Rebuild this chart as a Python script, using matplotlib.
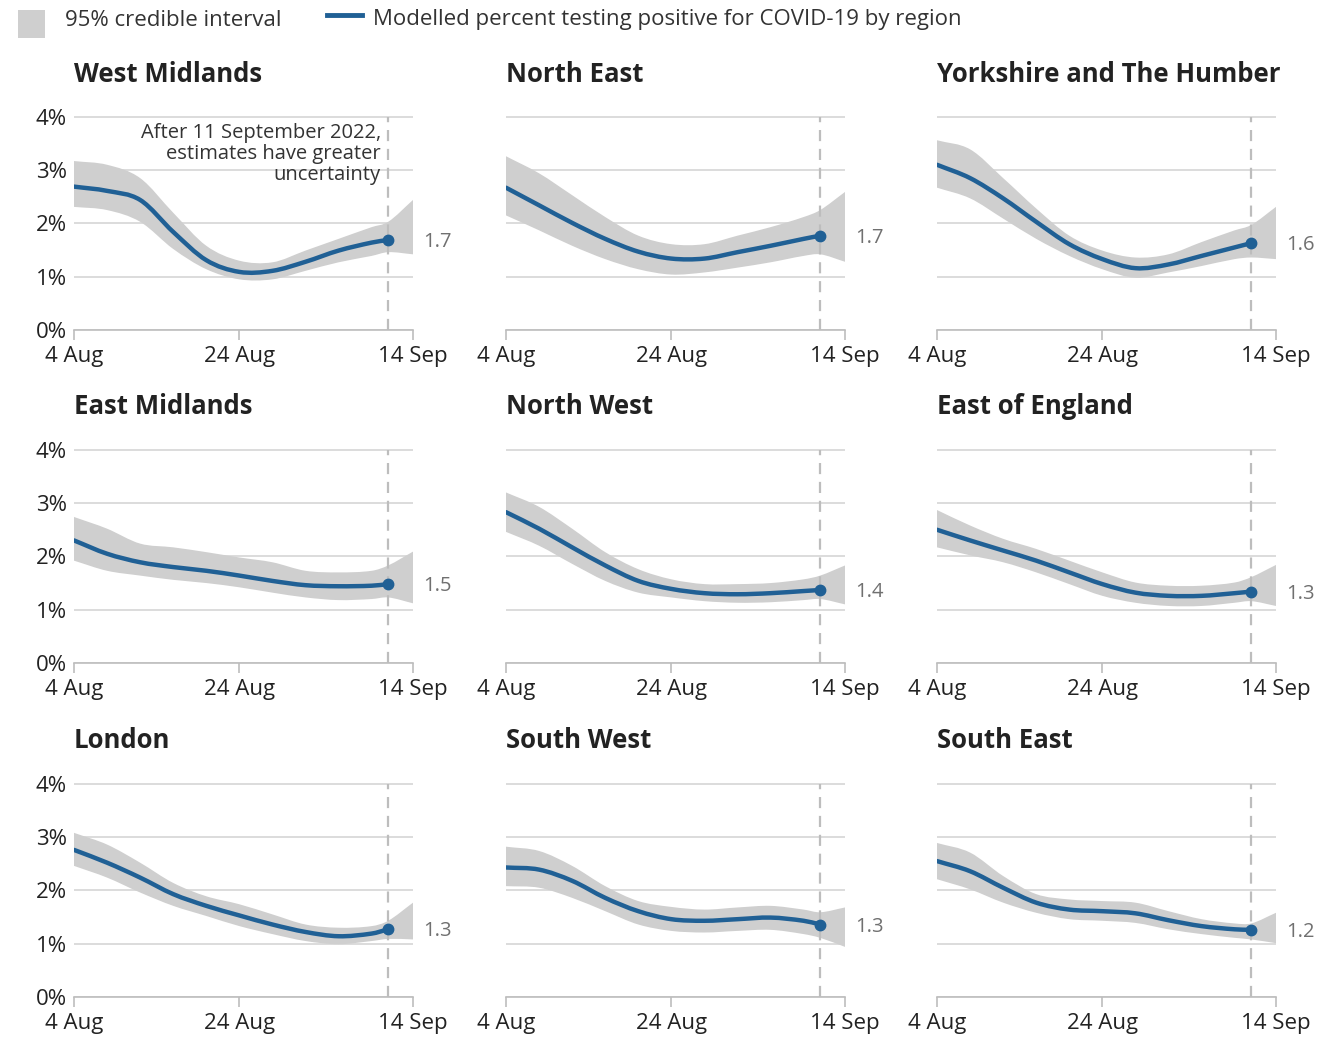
import matplotlib
matplotlib.use('Agg')
import matplotlib.pyplot as plt
import numpy as np
import pandas as pd
import matplotlib.dates as mdates
from matplotlib.path import Path
from matplotlib.patches import PathPatch, Rectangle
from matplotlib.lines import Line2D

plt.rcParams['font.family'] = ['Open Sans', 'DejaVu Sans']

# ---------------- data ----------------
regions = ["West Midlands", "North East", "Yorkshire and The Humber",
           "East Midlands", "North West", "East of England",
           "London", "South West", "South East"]

start_date = "2022-08-04"
line_days = [0, 4, 8, 12, 16, 20, 24, 28, 32, 36, 38]          # days after 4 Aug (last = 11 Sep)
band_days = [0, 4, 8, 12, 16, 20, 24, 28, 32, 36, 38, 41]      # band runs to 14 Sep

estimate = {
    "West Midlands":            [2.69, 2.61, 2.44, 1.84, 1.31, 1.09, 1.11, 1.28, 1.49, 1.64, 1.69],
    "North East":               [2.67, 2.34, 2.01, 1.71, 1.47, 1.34, 1.34, 1.46, 1.58, 1.71, 1.77],
    "Yorkshire and The Humber": [3.10, 2.85, 2.47, 2.03, 1.61, 1.33, 1.16, 1.23, 1.39, 1.55, 1.63],
    "East Midlands":            [2.30, 2.05, 1.89, 1.80, 1.73, 1.64, 1.54, 1.46, 1.44, 1.45, 1.48],
    "North West":               [2.83, 2.52, 2.17, 1.83, 1.54, 1.39, 1.31, 1.29, 1.31, 1.35, 1.37],
    "East of England":          [2.50, 2.30, 2.11, 1.92, 1.70, 1.48, 1.32, 1.26, 1.26, 1.31, 1.34],
    "London":                   [2.76, 2.52, 2.24, 1.93, 1.71, 1.53, 1.36, 1.22, 1.14, 1.19, 1.27],
    "South West":               [2.43, 2.39, 2.18, 1.86, 1.61, 1.46, 1.43, 1.46, 1.49, 1.43, 1.36],
    "South East":               [2.55, 2.36, 2.05, 1.77, 1.64, 1.61, 1.57, 1.44, 1.33, 1.27, 1.26],
}
upper = {
    "West Midlands":            [3.17, 3.10, 2.85, 2.20, 1.58, 1.30, 1.27, 1.49, 1.71, 1.93, 2.03, 2.44],
    "North East":               [3.26, 2.94, 2.53, 2.12, 1.77, 1.61, 1.61, 1.77, 1.93, 2.12, 2.25, 2.59],
    "Yorkshire and The Humber": [3.56, 3.39, 2.85, 2.28, 1.77, 1.49, 1.36, 1.42, 1.65, 1.87, 1.97, 2.31],
    "East Midlands":            [2.74, 2.52, 2.24, 2.17, 2.08, 1.98, 1.89, 1.73, 1.70, 1.73, 1.83, 2.09],
    "North West":               [3.20, 2.93, 2.52, 2.08, 1.76, 1.57, 1.48, 1.48, 1.50, 1.57, 1.64, 1.83],
    "East of England":          [2.87, 2.58, 2.33, 2.14, 1.92, 1.70, 1.51, 1.45, 1.45, 1.51, 1.61, 1.84],
    "London":                   [3.08, 2.86, 2.52, 2.14, 1.89, 1.74, 1.55, 1.36, 1.30, 1.33, 1.43, 1.77],
    "South West":               [2.82, 2.74, 2.46, 2.08, 1.80, 1.69, 1.64, 1.68, 1.71, 1.64, 1.59, 1.68],
    "South East":               [2.89, 2.71, 2.27, 1.93, 1.83, 1.80, 1.77, 1.61, 1.46, 1.38, 1.38, 1.58],
}
lower = {
    "West Midlands":            [2.31, 2.25, 2.03, 1.52, 1.14, 0.95, 0.95, 1.11, 1.27, 1.39, 1.46, 1.42],
    "North East":               [2.15, 1.87, 1.58, 1.33, 1.14, 1.04, 1.08, 1.17, 1.27, 1.39, 1.42, 1.28],
    "Yorkshire and The Humber": [2.67, 2.47, 2.09, 1.71, 1.39, 1.14, 0.98, 1.08, 1.20, 1.33, 1.36, 1.33],
    "East Midlands":            [1.92, 1.73, 1.64, 1.56, 1.50, 1.42, 1.32, 1.23, 1.18, 1.20, 1.23, 1.12],
    "North West":               [2.46, 2.20, 1.86, 1.54, 1.32, 1.23, 1.16, 1.13, 1.14, 1.18, 1.20, 1.10],
    "East of England":          [2.17, 2.02, 1.89, 1.70, 1.48, 1.26, 1.13, 1.07, 1.07, 1.13, 1.16, 1.07],
    "London":                   [2.46, 2.24, 1.96, 1.71, 1.52, 1.33, 1.18, 1.05, 0.99, 1.05, 1.09, 1.08],
    "South West":               [2.08, 2.05, 1.86, 1.61, 1.36, 1.24, 1.21, 1.24, 1.26, 1.18, 1.11, 0.94],
    "South East":               [2.21, 2.02, 1.77, 1.58, 1.46, 1.43, 1.39, 1.27, 1.18, 1.11, 1.08, 1.01],
}
latest_labels = ["1.7", "1.7", "1.6", "1.5", "1.4", "1.3", "1.3", "1.3", "1.2"]

y_ticks = [0, 1, 2, 3, 4]
y_tick_labels = ["0%", "1%", "2%", "3%", "4%"]
x_tick_days = [0, 20, 41]
x_tick_labels = ["4 Aug", "24 Aug", "14 Sep"]
uncertainty_day = 38
note_text = "After 11 September 2022,\nestimates have greater\nuncertainty"
legend_labels = ["95% credible interval",
                 "Modelled percent testing positive for COVID-19 by region"]

# ---------------- style ----------------
BLUE = "#206095"
BAND = "#cfcfcf"
GRID = "#d6d6d6"
TEXT = "#222222"
GREY_TXT = "#707070"
FS = 16

W, H = 1317, 1038
fig = plt.figure(figsize=(W / 100, H / 100), dpi=100)

col_left = [74, 506, 937]
row_zero = [330, 663, 997]
ax_w = 339
px_per_pct = 53.3
ymax = 4.08

t0 = pd.Timestamp(start_date)
line_dates = t0 + pd.to_timedelta(line_days, unit="D")
band_dates = t0 + pd.to_timedelta(band_days, unit="D")
tick_dates = t0 + pd.to_timedelta(x_tick_days, unit="D")
unc_date = t0 + pd.Timedelta(days=uncertainty_day)


def smooth_segments(x, y):
    """Cubic Hermite (Bezier) rendering through the given points."""
    x = np.asarray(x, float)
    y = np.asarray(y, float)
    n = len(x)
    m = np.empty(n)
    m[0] = (y[1] - y[0]) / (x[1] - x[0])
    m[-1] = (y[-1] - y[-2]) / (x[-1] - x[-2])
    for k in range(1, n - 1):
        m[k] = (y[k + 1] - y[k - 1]) / (x[k + 1] - x[k - 1])
    verts = []
    for k in range(n - 1):
        h = x[k + 1] - x[k]
        verts += [(x[k] + h / 3, y[k] + m[k] * h / 3),
                  (x[k + 1] - h / 3, y[k + 1] - m[k + 1] * h / 3),
                  (x[k + 1], y[k + 1])]
    return verts


for i, reg in enumerate(regions):
    r, c = divmod(i, 3)
    left = col_left[c] / W
    bottom = 1 - row_zero[r] / H
    height = px_per_pct * ymax / H
    ax = fig.add_axes([left, bottom, ax_w / W, height])

    bx = mdates.date2num(band_dates)
    lx = mdates.date2num(line_dates)

    # credible interval band
    up = smooth_segments(bx, upper[reg])
    lo = smooth_segments(bx[::-1], lower[reg][::-1])
    verts = [(bx[0], upper[reg][0])] + up + [(bx[-1], lower[reg][-1])] + lo + [(bx[0], upper[reg][0])]
    codes = ([Path.MOVETO] + [Path.CURVE4] * len(up) + [Path.LINETO]
             + [Path.CURVE4] * len(lo) + [Path.CLOSEPOLY])
    ax.add_patch(PathPatch(Path(verts, codes), facecolor=BAND, edgecolor="none", zorder=1))

    ax.axvline(unc_date, ymin=0, ymax=4 / ymax, color="#bdbdbd", lw=1.6,
               ls=(0, (5, 3.5)), zorder=2)

    # modelled estimate
    lv = [(lx[0], estimate[reg][0])] + smooth_segments(lx, estimate[reg])
    lc = [Path.MOVETO] + [Path.CURVE4] * (len(lv) - 1)
    ax.add_patch(PathPatch(Path(lv, lc), facecolor="none", edgecolor=BLUE, lw=3.2,
                           capstyle="round", joinstyle="round", zorder=3))
    ax.plot([line_dates[-1]], [estimate[reg][-1]], "o", color=BLUE, ms=7.5, zorder=4)
    ax.annotate(latest_labels[i], xy=(band_dates[-1], estimate[reg][-1]),
                xytext=(7, -1.5), textcoords="offset points", va="center", ha="left",
                fontsize=14.5, color=GREY_TXT, annotation_clip=False)

    ax.set_xlim(t0, band_dates[-1])
    ax.set_ylim(0, ymax)
    ax.set_yticks(y_ticks)
    ax.grid(axis="y", color=GRID, lw=1.2, zorder=0)
    ax.set_axisbelow(True)
    if c == 0:
        ax.set_yticklabels(y_tick_labels, fontsize=FS, color=TEXT)
    else:
        ax.set_yticklabels([])
    ax.tick_params(axis="y", length=0, pad=5)
    ax.set_xticks(tick_dates)
    ax.set_xticklabels(x_tick_labels, fontsize=FS, color=TEXT)
    ax.tick_params(axis="x", length=7, width=1.2, color="#bdbdbd", pad=4.5)
    for s in ["top", "right", "left"]:
        ax.spines[s].set_visible(False)
    ax.spines["bottom"].set_color("#bdbdbd")
    ax.spines["bottom"].set_linewidth(1.2)
    ax.patch.set_alpha(0)

    fig.text(col_left[c] / W, 1 - (row_zero[r] - 256) / H, reg, fontsize=18.5,
             fontweight="bold", color=TEXT, ha="left", va="center")

    if i == 0:
        ax.text(unc_date - pd.Timedelta(days=0.9), 3.88, note_text, ha="right", va="top",
                fontsize=14.5, color="#333333", linespacing=1.07, zorder=5)

# ---------------- legend ----------------
fig.add_artist(Rectangle((18 / W, 1 - 38 / H), 27 / W, 28 / H, facecolor=BAND,
                         edgecolor="none", transform=fig.transFigure))
fig.text(65 / W, 1 - 20 / H, legend_labels[0], fontsize=FS, color="#333333",
         ha="left", va="center")
fig.add_artist(Line2D([327 / W, 362 / W], [1 - 15 / H, 1 - 15 / H], color=BLUE, lw=3.5,
                      transform=fig.transFigure))
fig.text(373 / W, 1 - 20 / H, legend_labels[1], fontsize=FS, color="#333333",
         ha="left", va="center")

fig.savefig("out.png", dpi=100, facecolor="white")
